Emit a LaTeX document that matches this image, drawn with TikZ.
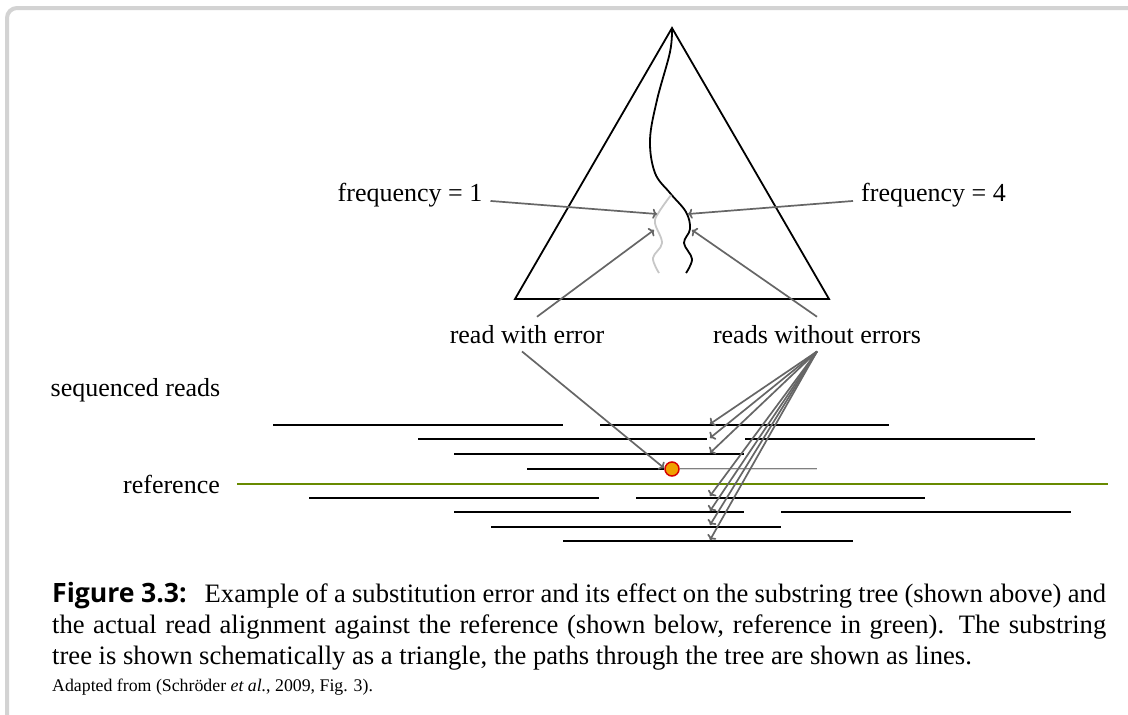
\documentclass[tikz,border=0pt]{standalone}
\usepackage{fontspec}
\setmainfont{Liberation Serif}
\newfontfamily\capsans{Open Sans}
\usetikzlibrary{arrows.meta}
\definecolor{framegray}{RGB}{211,211,211}
\definecolor{arrgray}{RGB}{102,102,102}
\definecolor{refgreen}{RGB}{104,138,0}
\definecolor{errfill}{RGB}{240,160,0}
\definecolor{errdraw}{RGB}{215,0,0}
\begin{document}
\begin{tikzpicture}[x=1pt,y=-1pt,
  lbl/.style={font=\fontsize{26}{31}\selectfont, inner sep=8pt, anchor=base},
  arr/.style={draw=arrgray, line width=1.7pt, -{To[length=4.5pt,width=10pt]}},
  readln/.style={draw=black, line width=2pt},
  treeln/.style={line width=1.8pt, line join=miter},
  capfont/.style={font=\fontsize{26.6}{31}\selectfont}]
\clip (0,0) rectangle (1128,715);
\fill[white] (0,0) rectangle (1128,715);
% frame
\draw[framegray, line width=4pt, rounded corners=10pt] (7,740) -- (7,8) -- (1150,8);
% triangle (substring tree)
\draw[treeln] (672,28) -- (515,299) -- (829,299) -- cycle;
% paths through the tree
\draw[line width=1.8pt, black] plot[smooth, tension=0.6] coordinates {(672,28) (670,52) (657,100) (650,140) (655,173) (670,193) (686,212) (690,229) (684,243) (692,259) (686,273)};
\draw[line width=1.8pt, black!22] plot[smooth, tension=0.6] coordinates {(671,195) (659,212) (655,223) (662,243) (653,258) (659,273)};
% tip coordinates in the tree
\coordinate (t1) at (657,214);
\coordinate (t2) at (688,214);
\coordinate (t3) at (654,230);
\coordinate (t4) at (692,230);
% labels
\node[lbl] (f1) at (410,201) {frequency = 1};
\node[lbl] (f4) at (933.5,201) {frequency = 4};
\node[lbl] (rwe) at (527,343) {read with error};
\node[lbl] (rwo) at (817,343) {reads without errors};
\node[lbl] (sr) at (135.5,396) {sequenced reads};
\node[lbl] (ref) at (171.5,493) {reference};
% reference line
\draw[refgreen, line width=2pt] (237,484) -- (1108,484);
% reads
\draw[readln] (273,425) -- (563,425);
\draw[readln] (600,425) -- (889,425);
\draw[readln] (418,439) -- (707,439);
\draw[readln] (745,439) -- (1035,439);
\draw[readln] (454,454) -- (744,454);
\node[circle, draw=errdraw, fill=errfill, line width=1.5pt, minimum size=14pt, inner sep=0pt] (err) at (672,469) {};
\draw[readln] (527,469) -- (err.west);
\draw[black!50, line width=0.9pt, double=black!15, double distance=0.9pt] (err.east) -- (817,469);
\draw[readln] (309,498) -- (599,498);
\draw[readln] (636,498) -- (925,498);
\draw[readln] (454,512) -- (744,512);
\draw[readln] (781,512) -- (1071,512);
\draw[readln] (491,527) -- (781,527);
\draw[readln] (563,541) -- (853,541);
% read tips
\coordinate (r1) at (710,424);
\coordinate (r2) at (710,438);
\coordinate (r3) at (710,453);
\coordinate (r5) at (710,496);
\coordinate (r6) at (710,511);
\coordinate (r7) at (710,525);
\coordinate (r8) at (710,540);
\coordinate (rerr) at (664,468);
% arrows
\draw[arr] (f1) -- (t1);
\draw[arr] (f4) -- (t2);
\draw[arr] ([xshift=10pt]rwe.north) -- (t3);
\draw[arr] (rwo.north) -- (t4);
\draw[arr] ([xshift=-5pt]rwe.south) -- (rerr);
\foreach \r in {r1,r2,r3,r5,r6,r7,r8}{
  \draw[arr] (rwo.south) -- (\r);
}
% caption
\node[capfont, anchor=north west, text width=1054pt, align=justify, inner sep=0pt] (cap) at (52,582)
{{\capsans\bfseries Figure 3.3:}\hspace{0.35em} Example of a substitution error and its effect on the substring tree (shown above) and\linebreak the actual read alignment against the reference (shown below, reference in green). The substring\linebreak tree is shown schematically as a triangle, the paths through the tree are shown as lines.};
\node[font=\fontsize{17.8}{22}\selectfont, anchor=base west, inner sep=0pt] (src) at (52,691) {Adapted from (Schröder \textit{et al.}, 2009, Fig. 3).};
\end{tikzpicture}
\end{document}
